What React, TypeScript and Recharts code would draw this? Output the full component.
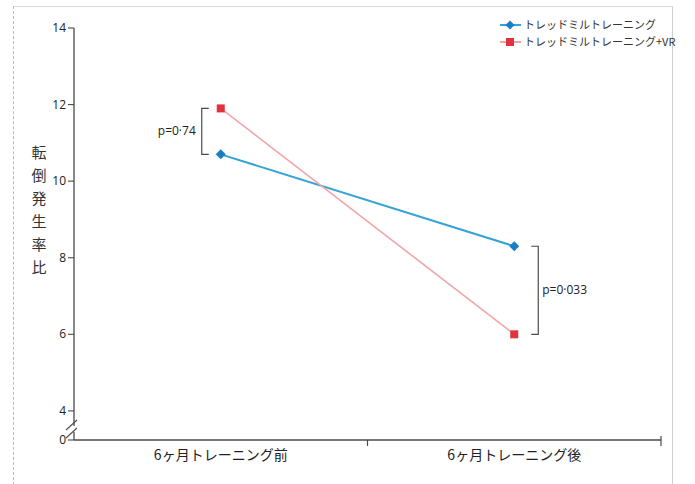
import React from 'react';
import { LineChart, Line, XAxis, YAxis, ReferenceLine, Legend } from 'recharts';

const categories = ['6ヶ月トレーニング前', '6ヶ月トレーニング後'];
const treadmill = [10.7, 8.3];
const treadmillVR = [11.9, 6.0];
const seriesNames = ['トレッドミルトレーニング', 'トレッドミルトレーニング+VR'];
const yTicks = [4, 6, 8, 10, 12, 14];
const breakValue = 3.24;
const breakLabel = '0';
const pLabels = ['p=0·74', 'p=0·033'];
const yTitle = '転倒発生率比';

const BLUE_LINE = '#35a3d6';
const BLUE_MARK = '#1a7fbf';
const RED_LINE = '#f0a6a8';
const RED_MARK = '#e2323e';
const AXIS = '#4a4a4a';
const TEXT = '#222';
const FONT = '"Open Sans", "Noto Sans CJK JP", sans-serif';
const JP = '"Noto Sans CJK JP", "Open Sans", sans-serif';

const data = categories.map((c, i) => ({ cat: c, a: treadmill[i], b: treadmillVR[i] }));

const Diamond = (props: any) => {
  const { cx, cy } = props;
  if (cx == null || cy == null) return null;
  return <path d={`M${cx},${cy - 5} L${cx + 5},${cy} L${cx},${cy + 5} L${cx - 5},${cy} Z`} fill={BLUE_MARK} />;
};
const Square = (props: any) => {
  const { cx, cy } = props;
  if (cx == null || cy == null) return null;
  return <rect x={cx - 4} y={cy - 4} width={8} height={8} fill={RED_MARK} />;
};

const YTick = (props: any) => {
  const { x, y, payload } = props;
  const ax = x + 8;
  if (payload.value === breakValue) {
    return (
      <g>
        <rect x={ax - 2} y={y - 14} width={4} height={6} fill="#fff" />
        <line x1={ax - 8} y1={y - 2} x2={ax + 3} y2={y - 12} stroke={AXIS} strokeWidth={1.1} />
        <line x1={ax - 8} y1={y - 10} x2={ax + 3} y2={y - 20} stroke={AXIS} strokeWidth={1.1} />
        <text x={x} y={y} dy={4} textAnchor="end" fontSize={12} fill={TEXT} fontFamily={FONT}>{breakLabel}</text>
      </g>
    );
  }
  return (
    <text x={x} y={y} dy={4} textAnchor="end" fontSize={12} fill={TEXT} fontFamily={FONT}>{payload.value}</text>
  );
};

const XTick = (props: any) => {
  const { x, y, payload, width, visibleTicksCount } = props;
  const half = width && visibleTicksCount ? width / (2 * visibleTicksCount) : (payload.offset || 0);
  const ay = y - 8;
  return (
    <g>
      <line x1={x + half} y1={ay - (payload.index === visibleTicksCount - 1 ? 4 : 0)} x2={x + half} y2={ay + 6} stroke={AXIS} strokeWidth={1.2} />
      <text x={x} y={y} dy={12} textAnchor="middle" fontSize={14} fill={TEXT} fontFamily={JP}>{payload.value}</text>
    </g>
  );
};

const bracket = (side: 'left' | 'right', text: string) => (props: any) => {
  const vb = props.viewBox || {};
  const { x, y, height } = vb;
  if (x == null) return null;
  if (side === 'left') {
    const bx = x - 19;
    return (
      <g>
        <path d={`M${bx + 7},${y} H${bx} V${y + height} H${bx + 7}`} fill="none" stroke={AXIS} strokeWidth={1.2} />
        <text x={bx - 6} y={y + height / 2} dy={4} textAnchor="end" fontSize={12} fill={TEXT} fontFamily={FONT}>{text}</text>
      </g>
    );
  }
  const bx = x + 24;
  return (
    <g>
      <path d={`M${bx - 7},${y} H${bx} V${y + height} H${bx - 7}`} fill="none" stroke={AXIS} strokeWidth={1.2} />
      <text x={bx + 4} y={y + height / 2} dy={4} textAnchor="start" fontSize={12} fill={TEXT} fontFamily={FONT}>{text}</text>
    </g>
  );
};

const LegendContent = () => (
  <div style={{ fontFamily: JP, fontSize: 11, color: '#333', lineHeight: '17px' }}>
    {[0, 1].map((i) => (
      <div key={i} style={{ display: 'flex', alignItems: 'center', height: 17 }}>
        <svg width={24} height={12} style={{ marginRight: 1 }}>
          <line x1={1} y1={6} x2={22} y2={6} stroke={i === 0 ? BLUE_LINE : RED_LINE} strokeWidth={2} />
          {i === 0 ? (
            <path d="M11,1.5 L15.5,6 L11,10.5 L6.5,6 Z" fill={BLUE_MARK} />
          ) : (
            <rect x={7} y={2} width={8} height={8} fill={RED_MARK} />
          )}
        </svg>
        <span>{seriesNames[i]}</span>
      </div>
    ))}
  </div>
);

export default function App() {
  return (
    <div style={{ position: 'absolute', left: 0, top: 0, width: 695, height: 484, background: '#fff' }}>
      <div style={{ position: 'absolute', left: 13, top: 6, width: 658, height: 478, borderLeft: '1px dashed #eaa3ad', borderTop: '1px solid #e6d6d8', borderRight: '1px solid #cfcfcf' }} />
      <LineChart width={695} height={484} data={data} margin={{ top: 28, right: 34, bottom: 14, left: 34 }} style={{ position: 'absolute', left: 0, top: 0 }}>
        <XAxis dataKey="cat" type="category" scale="band" height={30} axisLine={{ stroke: AXIS, strokeWidth: 1.3 }} tickLine={{ stroke: 'none' }} tickSize={6} tickMargin={2} tick={<XTick />} />
        <YAxis
          type="number"
          domain={[breakValue, 14]}
          ticks={[breakValue, ...yTicks]}
          width={40}
          allowDataOverflow
          axisLine={{ stroke: AXIS, strokeWidth: 1.3 }}
          tickLine={{ stroke: AXIS, strokeWidth: 1.1 }}
          tick={<YTick />}
          label={{
            content: () => (
              <text x={39} y={158} textAnchor="middle" fontSize={15} fill="#333" fontFamily={JP}>
                {yTitle.split('').map((ch, i) => (
                  <tspan key={i} x={39} dy={i === 0 ? 0 : 23}>{ch}</tspan>
                ))}
              </text>
            ),
          }}
        />
        <Legend
          layout="horizontal"
          verticalAlign="middle"
          align="center"
          content={<LegendContent />}
          wrapperStyle={{ position: 'absolute', top: 16, left: 499, width: 195, height: 36 }}
        />
        <Line dataKey="a" name={seriesNames[0]} stroke={BLUE_LINE} strokeWidth={2} dot={<Diamond />} isAnimationActive={false} />
        <Line dataKey="b" name={seriesNames[1]} stroke={RED_LINE} strokeWidth={1.6} dot={<Square />} isAnimationActive={false} />
        <ReferenceLine
          segment={[{ x: categories[0], y: treadmill[0] }, { x: categories[0], y: treadmillVR[0] }]}
          stroke="none"
          label={{ content: bracket('left', pLabels[0]) }}
        />
        <ReferenceLine
          segment={[{ x: categories[1], y: treadmillVR[1] }, { x: categories[1], y: treadmill[1] }]}
          stroke="none"
          label={{ content: bracket('right', pLabels[1]) }}
        />
      </LineChart>
    </div>
  );
}
